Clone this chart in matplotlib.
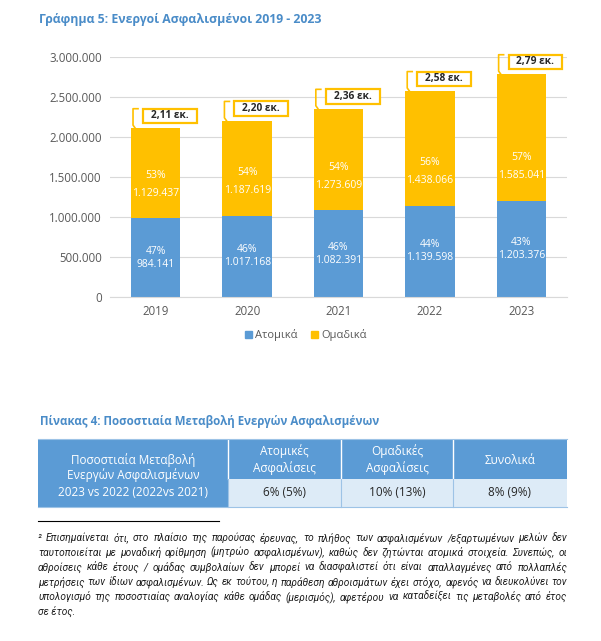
import numpy as np
import matplotlib.pyplot as plt
from matplotlib.patches import Rectangle, Patch

FONT = ['Open Sans', 'DejaVu Sans']
plt.rcParams['font.family'] = FONT

# data
years = ['2019', '2020', '2021', '2022', '2023']
atomika = [984141, 1017168, 1082391, 1139598, 1203376]
omadika = [1129437, 1187619, 1273609, 1438066, 1585041]
atomika_pct = [47, 46, 46, 44, 43]
omadika_pct = [53, 54, 54, 56, 57]

table_cols = ['Ατομικές\nΑσφαλίσεις', 'Ομαδικές\nΑσφαλίσεις', 'Συνολικά']
table_vals = ['6% (5%)', '10% (13%)', '8% (9%)']
table_rowhead = ['Ποσοστιαία Μεταβολή', 'Ενεργών Ασφαλισμένων', '2023 vs 2022 (2022vs 2021)']

footnote = [
    '² Επισημαίνεται ότι, στο πλαίσιο της παρούσας έρευνας, το πλήθος των ασφαλισμένων /εξαρτωμένων μελών δεν',
    'ταυτοποιείται με μοναδική αρίθμηση (μητρώο ασφαλισμένων), καθώς δεν ζητώνται ατομικά στοιχεία. Συνεπώς, οι',
    'αθροίσεις κάθε έτους / ομάδας συμβολαίων δεν μπορεί να διασφαλιστεί ότι είναι απαλλαγμένες από πολλαπλές',
    'μετρήσεις των ίδιων ασφαλισμένων. Ως εκ τούτου, η παράθεση αθροισμάτων έχει στόχο, αφενός να διευκολύνει τον',
    'υπολογισμό της ποσοστιαίας αναλογίας κάθε ομάδας (μερισμός), αφετέρου να καταδείξει τις μεταβολές από έτος',
    'σε έτος.',
]

BLUE = '#5B9BD5'
YELLOW = '#FFC000'
TITLE_BLUE = '#4A8CC8'
GRAY = '#595959'

def fmt(v):
    return f'{v:,}'.replace(',', '.')

W, H = 601, 641
fig = plt.figure(figsize=(W / 100, H / 100), dpi=100)

# layer for page text, table and footnote (pixel units)
lay = fig.add_axes([0, 0, 1, 1])
lay.set_xlim(0, W)
lay.set_ylim(H, 0)
lay.axis('off')

lay.text(39, 20, 'Γράφημα 5: Ενεργοί Ασφαλισμένοι 2019 - 2023', color=TITLE_BLUE,
         fontsize=8.8, fontweight='bold', va='center', ha='left')

# chart
ax = fig.add_axes([110 / W, 1 - 297 / H, 457 / W, 240 / H])
x = np.arange(len(years))
bw = 0.54
totals = [a + o for a, o in zip(atomika, omadika)]
ax.bar(x, atomika, bw, color=BLUE, zorder=2)
ax.bar(x, omadika, bw, bottom=atomika, color=YELLOW, zorder=2)
ax.set_xlim(-0.5, 4.5)
ax.set_ylim(0, 3000000)
ax.set_yticks(np.arange(0, 3000001, 500000))
ax.set_yticklabels([fmt(int(v)) for v in ax.get_yticks()])
ax.set_xticks(x)
ax.set_xticklabels(years)
ax.tick_params(length=0, labelsize=8.3, colors=GRAY, pad=6)
ax.grid(axis='y', color='#D9D9D9', lw=0.8, zorder=0)
for s in ['top', 'right', 'left']:
    ax.spines[s].set_visible(False)
ax.spines['bottom'].set_color('#D9D9D9')

px_y = 3000000 / 240  # value per pixel
px_x = 5 / 457        # category per pixel

for i in range(len(years)):
    mid = atomika[i] / 2
    ax.text(x[i], mid + 6.5 * px_y, f'{atomika_pct[i]}%', color='white', ha='center',
            va='center', fontsize=7.5, zorder=3)
    ax.text(x[i], mid - 6.5 * px_y, fmt(atomika[i]), color='white', ha='center',
            va='center', fontsize=7.5, zorder=3)
    yc = atomika[i] + 34 * px_y
    ax.text(x[i], yc + 9 * px_y, f'{omadika_pct[i]}%', color='white', ha='center',
            va='center', fontsize=7.5, zorder=3)
    ax.text(x[i], yc - 9 * px_y, fmt(omadika[i]), color='white', ha='center',
            va='center', fontsize=7.5, zorder=3)

    # callout with total
    t = totals[i]
    bl, bb = x[i] - 0.14, t + 60000
    bwid, bh = 0.59, 180000
    ax.add_patch(Rectangle((bl, bb), bwid, bh, facecolor='white', edgecolor=YELLOW,
                           lw=1.6, zorder=4, clip_on=False))
    ax.text(bl + bwid / 2, bb + bh / 2, f'{t / 1e6:.2f}'.replace('.', ',') + ' εκ.',
            ha='center', va='center', fontsize=7.3, fontweight='bold', color='#262626',
            zorder=5, clip_on=False)
    xl = x[i] - bw / 2 + 2 * px_x
    ax.plot([xl + 5 * px_x, xl, xl, xl + 2 * px_x],
            [bb + bh, bb + bh, bb - 2 * px_y, t],
            color=YELLOW, lw=1.2, zorder=4, clip_on=False, solid_joinstyle='round')

fig.legend(handles=[Patch(color=BLUE, label='Ατομικά'), Patch(color=YELLOW, label='Ομαδικά')],
           loc='center', bbox_to_anchor=(306 / W, 1 - 335 / H), ncol=2, frameon=False,
           fontsize=8, handlelength=0.6, handleheight=0.6, handletextpad=0.3,
           columnspacing=1.2, labelcolor=GRAY)

# table
lay.text(40, 421, 'Πίνακας 4: Ποσοστιαία Μεταβολή Ενεργών Ασφαλισμένων', color=TITLE_BLUE,
         fontsize=8.3, fontweight='bold', va='center', ha='left')
tx = [38, 228, 341, 453, 567]
ttop, tmid, tbot = 439, 479, 507
lay.add_patch(Rectangle((tx[0], ttop), tx[-1] - tx[0], tmid - ttop, color=BLUE, lw=0))
lay.add_patch(Rectangle((tx[0], tmid), tx[1] - tx[0], tbot - tmid, color=BLUE, lw=0))
lay.add_patch(Rectangle((tx[1], tmid), tx[-1] - tx[1], tbot - tmid, color='#DDEBF7', lw=0))
for xx in tx[1:-1]:
    lay.plot([xx, xx], [ttop, tmid], color='white', lw=1)
    lay.plot([xx, xx], [tmid, tbot], color='#9DC3E6', lw=0.8)
lay.plot([tx[0], tx[-1]], [tbot, tbot], color='#9DC3E6', lw=0.8)
lay.plot([tx[0], tx[-1]], [ttop, ttop], color='#9DC3E6', lw=0.8)

for yy, s in zip([460, 475, 492], table_rowhead):
    lay.text((tx[0] + tx[1]) / 2, yy, s, color='white', fontsize=8.5, ha='center', va='center')
for j, (c, v) in enumerate(zip(table_cols, table_vals)):
    cx = (tx[j + 1] + tx[j + 2]) / 2
    lay.text(cx, 460, c, color='white', fontsize=8.5, ha='center', va='center', linespacing=1.3)
    lay.text(cx, 493, v, color='#262626', fontsize=8.5, ha='center', va='center')

# footnote, justified between x0 and x1
lay.plot([38, 219], [521, 521], color='black', lw=0.8)
renderer = fig.canvas.get_renderer()
x0, x1 = 38, 567
kw = dict(style='italic', color='#1F1F1F', va='center', ha='left',
          family=['Roboto', 'DejaVu Sans'])
probe = lay.text(0, 0, max(footnote, key=len), fontsize=7, **kw)
fs = 7 * (x1 - x0 - 4) / probe.get_window_extent(renderer).width
probe.remove()
for k, line in enumerate(footnote):
    y = 538 + 14.7 * k
    words = line.split(' ')
    if k == len(footnote) - 1:
        lay.text(x0, y, line, fontsize=fs, **kw)
        continue
    arts = [lay.text(0, y, w, fontsize=fs, **kw) for w in words]
    widths = [a.get_window_extent(renderer).width for a in arts]
    gap = (x1 - x0 - sum(widths)) / (len(words) - 1)
    pos = x0
    for a, wd in zip(arts, widths):
        a.set_x(pos)
        pos += wd + gap

fig.savefig('out.png', dpi=100, facecolor='white')
